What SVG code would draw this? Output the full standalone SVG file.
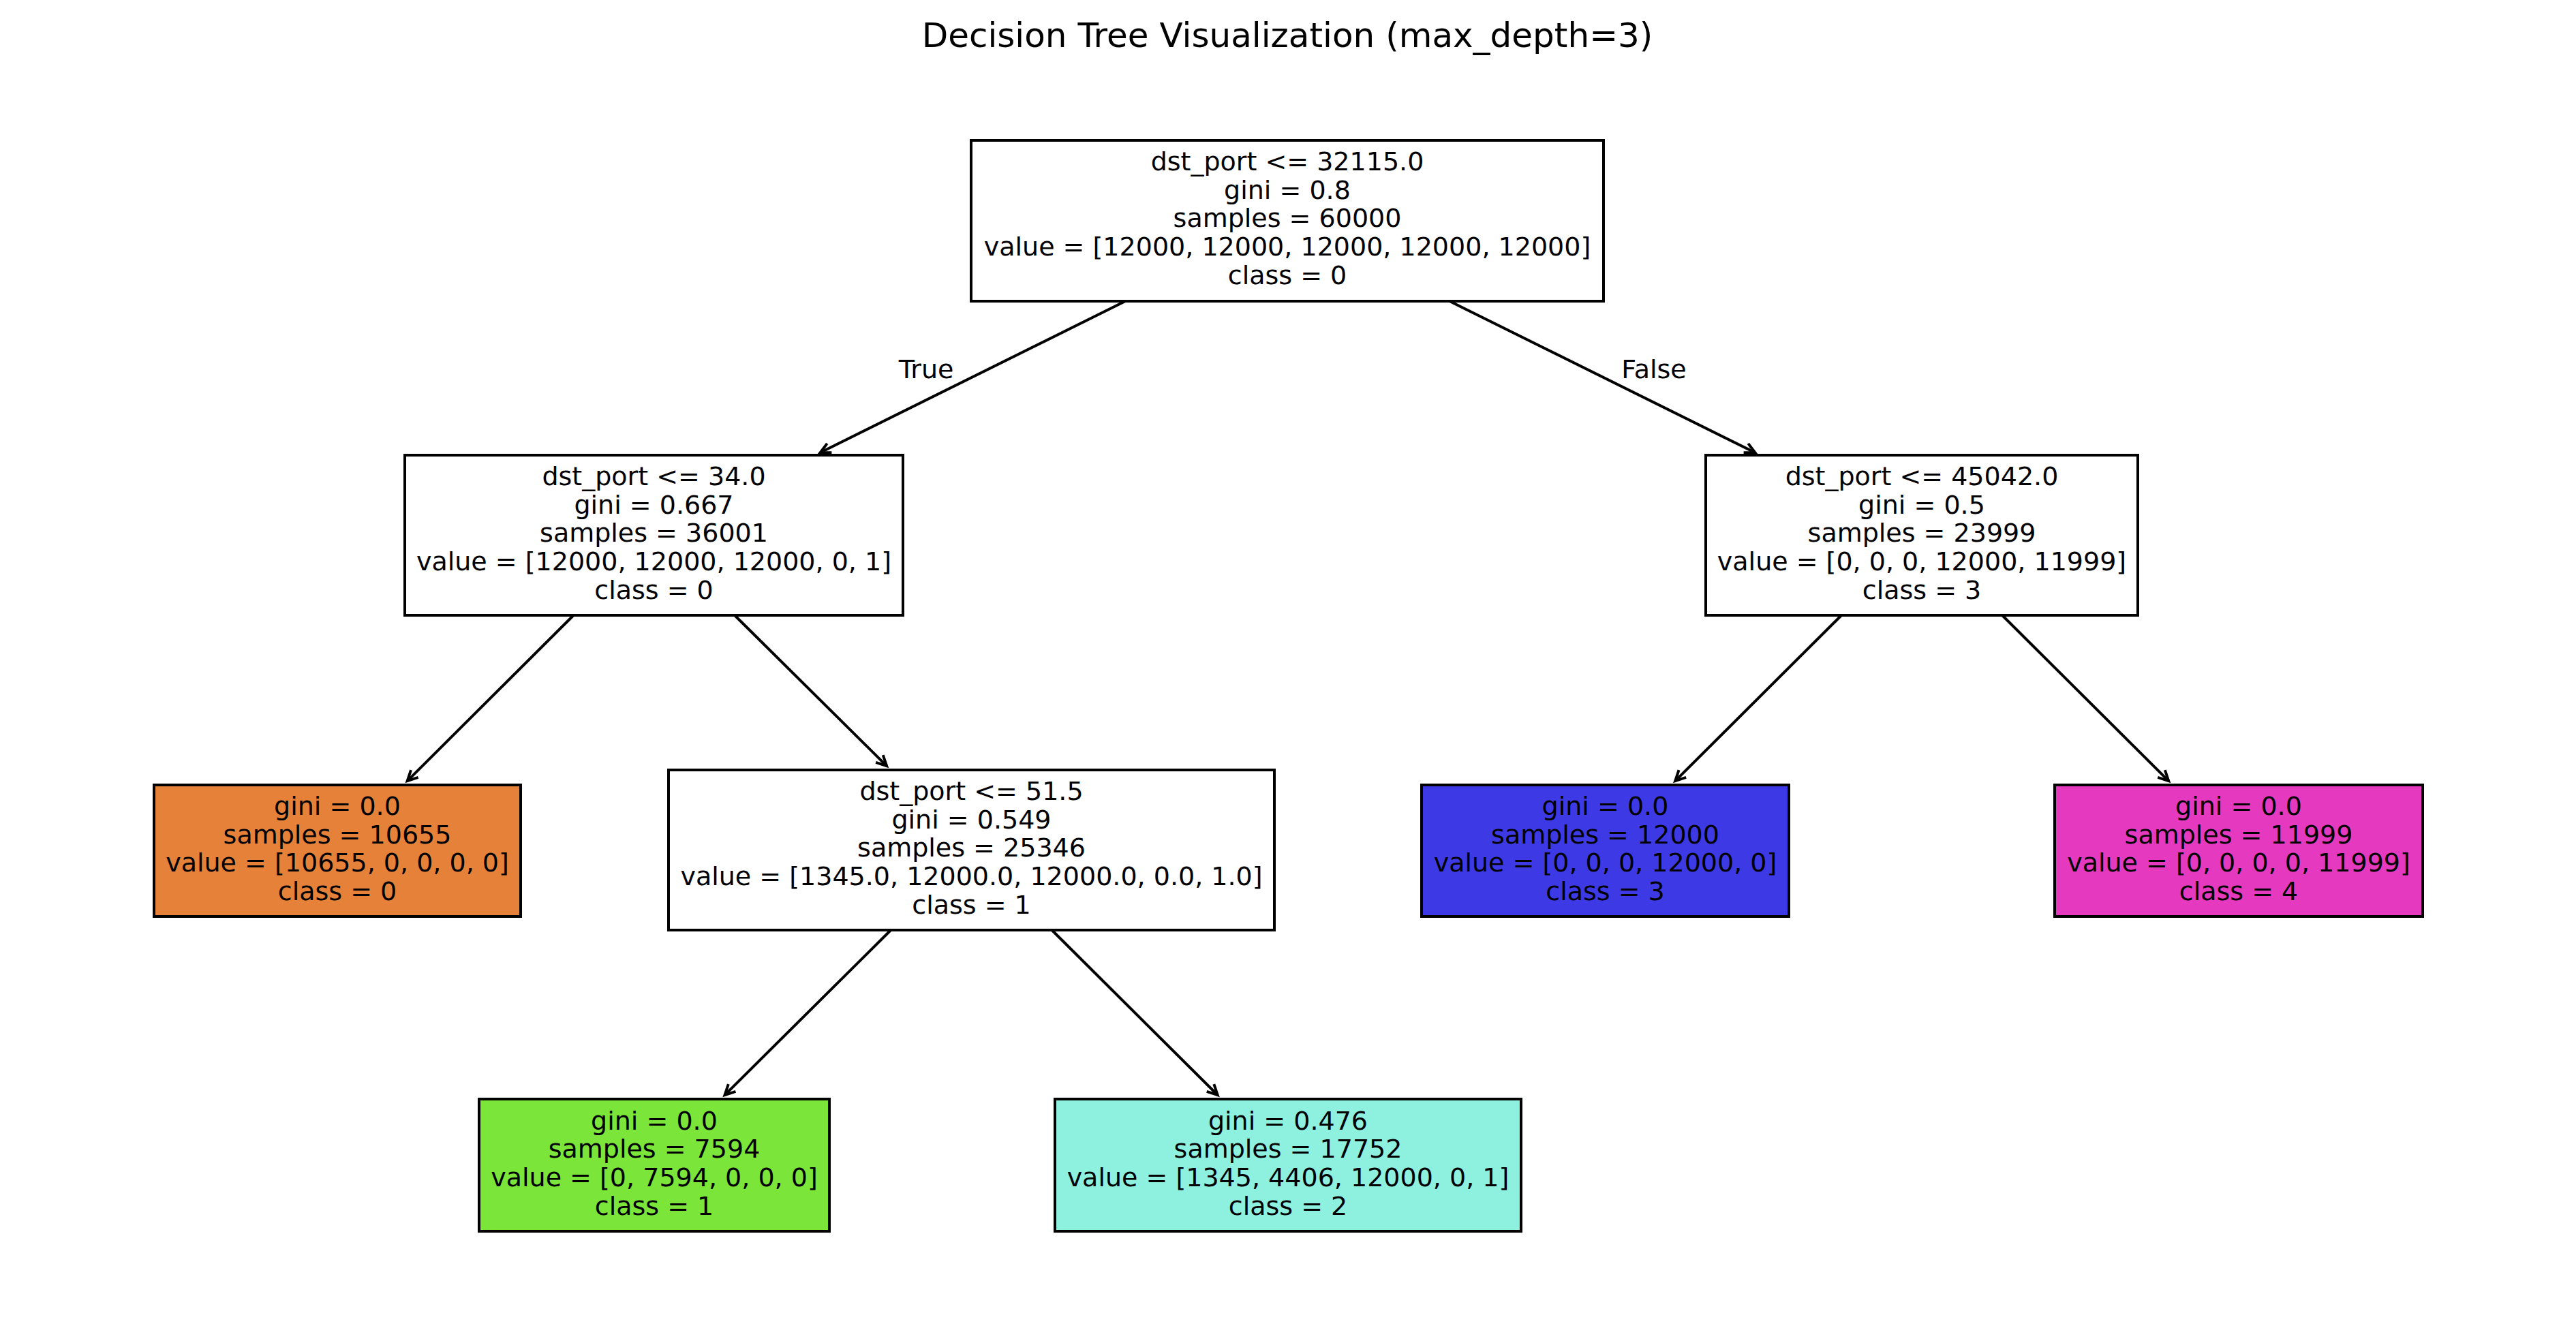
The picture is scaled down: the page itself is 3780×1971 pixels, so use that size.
<svg xmlns="http://www.w3.org/2000/svg" width="3780" height="1971" viewBox="0 0 3780 1971">
<defs>
<style>
text{font-family:"DejaVu Sans","Liberation Sans",sans-serif;fill:#000}
.t{font-size:38px;text-anchor:middle}
.title{font-size:50px;text-anchor:middle}
.box{stroke:#000;stroke-width:4}
.edge{stroke:#000;stroke-width:4;fill:none;marker-end:url(#ah)}
</style>
<marker id="ah" markerUnits="userSpaceOnUse" orient="auto" refX="0" refY="0" markerWidth="20" markerHeight="20" overflow="visible">
<path d="M-15,-7.5 L0,0 L-15,7.5" fill="none" stroke="#000" stroke-width="4" stroke-linejoin="miter"/>
</marker>
</defs>
<rect width="3780" height="1971" fill="#fff"/>
<text class="title" x="1889" y="69">Decision Tree Visualization (max_depth=3)</text>
<g id="connectors">
<line class="edge" x1="1651.3" y1="442" x2="1203.6" y2="664.3"/>
<line class="edge" x1="2127.1" y1="442" x2="2575.4" y2="664.3"/>
<line class="edge" x1="841.6" y1="903" x2="597.7" y2="1146.1"/>
<line class="edge" x1="1078" y1="903" x2="1301.1" y2="1124.1"/>
<line class="edge" x1="2702.1" y1="903" x2="2458.2" y2="1146.1"/>
<line class="edge" x1="2938" y1="903" x2="3182.2" y2="1146.1"/>
<line class="edge" x1="1307.2" y1="1365" x2="1063.5" y2="1607.1"/>
<line class="edge" x1="1543.5" y1="1365" x2="1786.7" y2="1607.1"/>
<text class="t" x="1359" y="555">True</text>
<text class="t" x="2427" y="555">False</text>
</g>
<g id="node0">
<rect class="box" x="1425" y="206" width="928" height="236" fill="#ffffff"/>
<text class="t" x="1889" y="250">dst_port &lt;= 32115.0</text>
<text class="t" x="1889" y="291.7">gini = 0.8</text>
<text class="t" x="1889" y="333.4">samples = 60000</text>
<text class="t" x="1889" y="375.1">value = [12000, 12000, 12000, 12000, 12000]</text>
<text class="t" x="1889" y="416.8">class = 0</text>
</g>
<g id="node1">
<rect class="box" x="594" y="668" width="731" height="235" fill="#ffffff"/>
<text class="t" x="959.5" y="712">dst_port &lt;= 34.0</text>
<text class="t" x="959.5" y="753.7">gini = 0.667</text>
<text class="t" x="959.5" y="795.4">samples = 36001</text>
<text class="t" x="959.5" y="837.1">value = [12000, 12000, 12000, 0, 1]</text>
<text class="t" x="959.5" y="878.8">class = 0</text>
</g>
<g id="node2">
<rect class="box" x="226" y="1152" width="538" height="193" fill="#e58139"/>
<text class="t" x="495" y="1196">gini = 0.0</text>
<text class="t" x="495" y="1237.7">samples = 10655</text>
<text class="t" x="495" y="1279.4">value = [10655, 0, 0, 0, 0]</text>
<text class="t" x="495" y="1321.1">class = 0</text>
</g>
<g id="node3">
<rect class="box" x="981" y="1130" width="889" height="235" fill="#ffffff"/>
<text class="t" x="1425.5" y="1174">dst_port &lt;= 51.5</text>
<text class="t" x="1425.5" y="1215.7">gini = 0.549</text>
<text class="t" x="1425.5" y="1257.4">samples = 25346</text>
<text class="t" x="1425.5" y="1299.1">value = [1345.0, 12000.0, 12000.0, 0.0, 1.0]</text>
<text class="t" x="1425.5" y="1340.8">class = 1</text>
</g>
<g id="node4">
<rect class="box" x="703" y="1613" width="514" height="194" fill="#7be539"/>
<text class="t" x="960" y="1657.5">gini = 0.0</text>
<text class="t" x="960" y="1699.2">samples = 7594</text>
<text class="t" x="960" y="1740.9">value = [0, 7594, 0, 0, 0]</text>
<text class="t" x="960" y="1782.6">class = 1</text>
</g>
<g id="node5">
<rect class="box" x="1548" y="1613" width="684" height="194" fill="#8ef0de"/>
<text class="t" x="1890" y="1657.5">gini = 0.476</text>
<text class="t" x="1890" y="1699.2">samples = 17752</text>
<text class="t" x="1890" y="1740.9">value = [1345, 4406, 12000, 0, 1]</text>
<text class="t" x="1890" y="1782.6">class = 2</text>
</g>
<g id="node6">
<rect class="box" x="2503" y="668" width="634" height="235" fill="#ffffff"/>
<text class="t" x="2820" y="712">dst_port &lt;= 45042.0</text>
<text class="t" x="2820" y="753.7">gini = 0.5</text>
<text class="t" x="2820" y="795.4">samples = 23999</text>
<text class="t" x="2820" y="837.1">value = [0, 0, 0, 12000, 11999]</text>
<text class="t" x="2820" y="878.8">class = 3</text>
</g>
<g id="node7">
<rect class="box" x="2086" y="1152" width="539" height="193" fill="#3c39e5"/>
<text class="t" x="2355.5" y="1196">gini = 0.0</text>
<text class="t" x="2355.5" y="1237.7">samples = 12000</text>
<text class="t" x="2355.5" y="1279.4">value = [0, 0, 0, 12000, 0]</text>
<text class="t" x="2355.5" y="1321.1">class = 3</text>
</g>
<g id="node8">
<rect class="box" x="3015" y="1152" width="540" height="193" fill="#e539c0"/>
<text class="t" x="3285" y="1196">gini = 0.0</text>
<text class="t" x="3285" y="1237.7">samples = 11999</text>
<text class="t" x="3285" y="1279.4">value = [0, 0, 0, 0, 11999]</text>
<text class="t" x="3285" y="1321.1">class = 4</text>
</g>
</svg>
